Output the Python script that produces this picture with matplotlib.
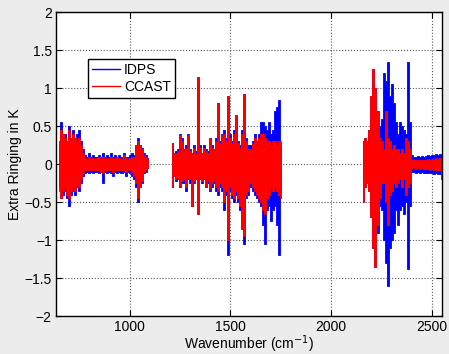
import numpy as np
import matplotlib
matplotlib.use("Agg")
import matplotlib.pyplot as plt

plt.rcParams['font.family'] = ['Liberation Sans', 'DejaVu Sans']

# Envelope of the ringing difference (K), 10 cm-1 steps
band1_x = np.arange(650, 1091, 10)
idps_hi1 = [0.30, 0.55, 0.35, 0.40, 0.30, 0.50, 0.35, 0.45, 0.35, 0.40, 0.45, 0.30, 0.20, 0.12, 0.10,
            0.15, 0.10, 0.12, 0.10, 0.10, 0.12, 0.10, 0.15, 0.10, 0.12, 0.10, 0.15, 0.10, 0.12, 0.10,
            0.12, 0.10, 0.15, 0.10, 0.10, 0.12, 0.15, 0.12, 0.25, 0.35, 0.25, 0.22, 0.15, 0.12, 0.08]
idps_lo1 = [-0.30, -0.45, -0.40, -0.35, -0.45, -0.55, -0.40, -0.35, -0.40, -0.30, -0.35, -0.25, -0.15, -0.12, -0.10,
            -0.12, -0.10, -0.12, -0.10, -0.10, -0.12, -0.10, -0.25, -0.10, -0.12, -0.10, -0.12, -0.15, -0.10, -0.12,
            -0.10, -0.12, -0.10, -0.15, -0.10, -0.12, -0.15, -0.20, -0.30, -0.50, -0.30, -0.25, -0.12, -0.10, -0.05]
ccast_hi1 = [0.30, 0.45, 0.40, 0.35, 0.30, 0.45, 0.30, 0.40, 0.35, 0.30, 0.35, 0.25, 0.15, 0.08, 0.07,
             0.10, 0.07, 0.08, 0.07, 0.08, 0.10, 0.07, 0.10, 0.07, 0.08, 0.07, 0.10, 0.07, 0.08, 0.10,
             0.08, 0.07, 0.12, 0.08, 0.07, 0.08, 0.10, 0.10, 0.25, 0.30, 0.25, 0.20, 0.12, 0.10, 0.06]
ccast_lo1 = [-0.35, -0.45, -0.35, -0.30, -0.40, -0.45, -0.35, -0.30, -0.35, -0.25, -0.30, -0.20, -0.12, -0.08, -0.07,
             -0.08, -0.07, -0.08, -0.07, -0.08, -0.07, -0.10, -0.12, -0.07, -0.08, -0.07, -0.08, -0.10, -0.07, -0.08,
             -0.07, -0.08, -0.07, -0.10, -0.07, -0.08, -0.10, -0.15, -0.25, -0.45, -0.30, -0.22, -0.10, -0.08, -0.05]

band2_x = np.arange(1210, 1751, 10)
idps_hi2 = [0.28, 0.15, 0.18, 0.20, 0.40, 0.35, 0.20, 0.25, 0.40, 0.20, 0.15, 0.25, 0.18, 1.15, 0.25,
            0.15, 0.25, 0.20, 0.18, 0.35, 0.25, 0.20, 0.35, 0.80, 0.30, 0.40, 0.45, 0.35, 0.90, 0.40,
            0.30, 0.45, 0.65, 0.30, 0.25, 0.45, 0.93, 0.35, 0.25, 0.25, 0.30, 0.40, 0.30, 0.40, 0.55,
            0.55, 0.50, 0.45, 0.55, 0.40, 0.45, 0.70, 0.75, 0.85, 0.25]
idps_lo2 = [-0.30, -0.15, -0.22, -0.20, -0.30, -0.25, -0.25, -0.35, -0.20, -0.25, -0.55, -0.25, -0.20, -0.65, -0.20,
            -0.25, -0.20, -0.30, -0.25, -0.35, -0.30, -0.25, -0.35, -0.40, -0.30, -0.35, -0.60, -0.40, -1.20, -0.35,
            -0.45, -0.50, -0.40, -0.50, -0.60, -0.85, -1.05, -0.45, -0.40, -0.30, -0.35, -0.40, -0.45, -0.50, -0.55,
            -0.80, -1.05, -0.60, -0.55, -0.75, -0.60, -0.55, -0.80, -1.20, -0.45]
ccast_hi2 = [0.28, 0.15, 0.15, 0.18, 0.38, 0.30, 0.20, 0.22, 0.38, 0.18, 0.15, 0.22, 0.15, 1.15, 0.22,
             0.15, 0.22, 0.18, 0.15, 0.35, 0.22, 0.20, 0.30, 0.80, 0.28, 0.38, 0.40, 0.30, 0.90, 0.35,
             0.28, 0.40, 0.65, 0.28, 0.22, 0.40, 0.93, 0.30, 0.20, 0.20, 0.28, 0.35, 0.25, 0.35, 0.40,
             0.40, 0.35, 0.30, 0.30, 0.25, 0.30, 0.30, 0.25, 0.30, 0.30]
ccast_lo2 = [-0.30, -0.15, -0.20, -0.18, -0.28, -0.22, -0.20, -0.30, -0.18, -0.20, -0.55, -0.22, -0.18, -0.65, -0.18,
             -0.22, -0.18, -0.28, -0.22, -0.32, -0.25, -0.22, -0.30, -0.35, -0.25, -0.30, -0.50, -0.35, -1.00, -0.30,
             -0.40, -0.45, -0.35, -0.45, -0.55, -0.85, -0.95, -0.40, -0.35, -0.25, -0.30, -0.35, -0.40, -0.45, -0.50,
             -0.60, -0.65, -0.45, -0.40, -0.30, -0.35, -0.30, -0.35, -0.40, -0.45]

band3_x = np.arange(2160, 2551, 10)
idps_hi3 = [0.30, 0.35, 0.30, 0.45, 0.90, 1.25, 1.00, 0.70, 0.50, 0.60, 1.20, 1.10, 1.35, 0.90, 1.05,
            0.80, 0.55, 0.40, 0.55, 0.50, 0.45, 0.40, 1.35, 0.55, 0.12, 0.10, 0.10, 0.11, 0.10, 0.11,
            0.10, 0.11, 0.12, 0.11, 0.12, 0.12, 0.13, 0.12, 0.13, 0.12]
idps_lo3 = [-0.50, -0.30, -0.25, -0.35, -0.70, -1.10, -1.35, -0.90, -0.55, -0.60, -1.00, -1.30, -1.60, -1.10, -1.00,
            -0.90, -0.60, -0.80, -0.60, -0.55, -0.65, -0.50, -1.38, -0.55, -0.10, -0.10, -0.11, -0.10, -0.11, -0.10,
            -0.11, -0.12, -0.11, -0.12, -0.12, -0.13, -0.12, -0.13, -0.13, -0.12]
ccast_hi3 = [0.30, 0.35, 0.30, 0.45, 0.90, 1.25, 1.00, 0.70, 0.35, 0.30, 0.20, 0.70, 0.35, 0.30, 0.20,
             0.25, 0.20, 0.20, 0.15, 0.20, 0.15, 0.35, 0.30, 0.20, 0.05, 0.05, 0.05, 0.06, 0.05, 0.06,
             0.06, 0.06, 0.07, 0.06, 0.07, 0.07, 0.08, 0.07, 0.08, 0.08]
ccast_lo3 = [-0.50, -0.30, -0.25, -0.35, -0.70, -1.10, -1.35, -0.80, -0.45, -0.25, -0.25, -0.50, -0.80, -0.40, -0.35,
             -0.25, -0.30, -0.25, -0.20, -0.30, -0.20, -0.40, -0.30, -0.25, -0.05, -0.05, -0.06, -0.05, -0.06, -0.05,
             -0.06, -0.06, -0.06, -0.07, -0.06, -0.07, -0.07, -0.08, -0.08, -0.20]

y_ticks = [-2, -1.5, -1, -0.5, 0, 0.5, 1, 1.5, 2]
y_tick_labels = ['\u22122', '\u22121.5', '\u22121', '\u22120.5', '0', '0.5', '1', '1.5', '2']
x_ticks = [1000, 1500, 2000, 2500]

idps_bands = [(band1_x, idps_hi1, idps_lo1), (band2_x, idps_hi2, idps_lo2), (band3_x, idps_hi3, idps_lo3)]
ccast_bands = [(band1_x, ccast_hi1, ccast_lo1), (band2_x, ccast_hi2, ccast_lo2), (band3_x, ccast_hi3, ccast_lo3)]

fig = plt.figure(figsize=(4.49, 3.54), dpi=100, facecolor='#ececec')
ax = fig.add_axes([0.1247, 0.1065, 0.8597, 0.8588])

# dense spectra drawn as their min/max envelope
for bands, col in [(idps_bands, '#0000ff'), (ccast_bands, '#ff0000')]:
    for x, hi, lo in bands:
        ax.fill_between(x, lo, hi, step='mid', facecolor=col, edgecolor=col, lw=0.6)

ax.plot([], [], color='#0000ff', lw=1.0, label='IDPS')
ax.plot([], [], color='#ff0000', lw=1.0, label='CCAST')

ax.set_xlim(635, 2550)
ax.set_ylim(-2, 2)
ax.set_xticks(x_ticks)
ax.set_yticks(y_ticks)
ax.set_yticklabels(y_tick_labels)
ax.tick_params(direction='in', top=True, right=True, labelsize=10, length=4, pad=3)
ax.grid(True, linestyle=':', color='0.35', linewidth=0.8)
ax.set_axisbelow(True)
for s in ax.spines.values():
    s.set_linewidth(1.0)

ax.set_xlabel('Wavenumber (cm$^{-1}$)', fontsize=10, labelpad=-1)
ax.set_ylabel('Extra Ringing in K', fontsize=10, labelpad=2)

leg = ax.legend(loc='upper left', bbox_to_anchor=(0.083, 0.846), borderaxespad=0,
                fancybox=False, framealpha=1, edgecolor='black', fontsize=10,
                handlelength=2.0, handletextpad=0.3, borderpad=0.3, labelspacing=0.2)
leg.get_frame().set_linewidth(1.0)

fig.savefig('out.png', dpi=100, facecolor=fig.get_facecolor())
